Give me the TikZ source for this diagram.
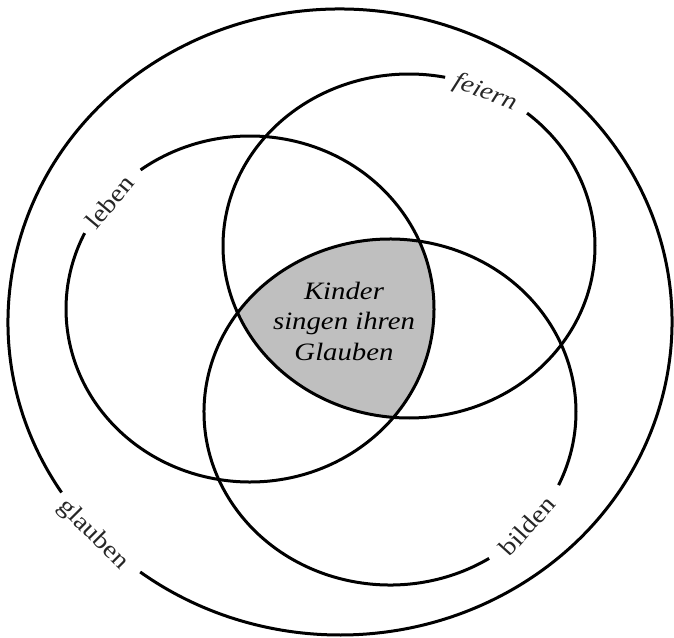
\documentclass[tikz,border=0pt]{standalone}
\usepackage{fontspec}
\newfontfamily\labfont[FakeStretch=1.15]{Liberation Serif}
\begin{document}
\begin{tikzpicture}[x=1pt,y=-1pt,
  ring/.style={line width=3pt},
  lbl/.style={font=\labfont\fontsize{24.5}{26}\selectfont, text=black!85, inner sep=0pt},
  centretext/.style={align=center, font=\labfont\itshape\fontsize{25}{30.5}\selectfont, inner sep=0pt}]
\useasboundingbox (0,0) rectangle (674,637);
\coordinate (O) at (340,322);
\coordinate (L) at (250,309);
\coordinate (T) at (409,246);
\coordinate (B) at (390,412);
% shaded common region
\begin{scope}
  \clip (L) ellipse [x radius=184, y radius=173];
  \clip (T) ellipse [x radius=186, y radius=172];
  \fill[black!25] (B) ellipse [x radius=186, y radius=173];
\end{scope}
% outer ring (glauben)
\draw[ring] (O) ++(147:332 and 313) arc[start angle=147, end angle=487, x radius=332, y radius=313];
% left ring (leben)
\draw[ring] (L) ++(233.5:184 and 173) arc[start angle=233.5, end angle=566, x radius=184, y radius=173];
% top ring (feiern)
\draw[ring] (T) ++(-50.6:186 and 172) arc[start angle=-50.6, end angle=281.2, x radius=186, y radius=172];
% bottom ring (bilden)
\draw[ring] (B) ++(57.8:186 and 173) arc[start angle=57.8, end angle=385, x radius=186, y radius=173];
% labels
\node[lbl, rotate=-21] (feiern) at (485,93) {\itshape feiern};
\node[lbl, rotate=50] (leben) at (110,202) {leben};
\node[lbl, rotate=48] (bilden) at (527,526) {bilden};
\node[lbl, rotate=-45] (glauben) at (93,535) {glauben};
\node[centretext] (centre) at (344,321) {Kinder\\singen ihren\\Glauben};
\end{tikzpicture}
\end{document}
